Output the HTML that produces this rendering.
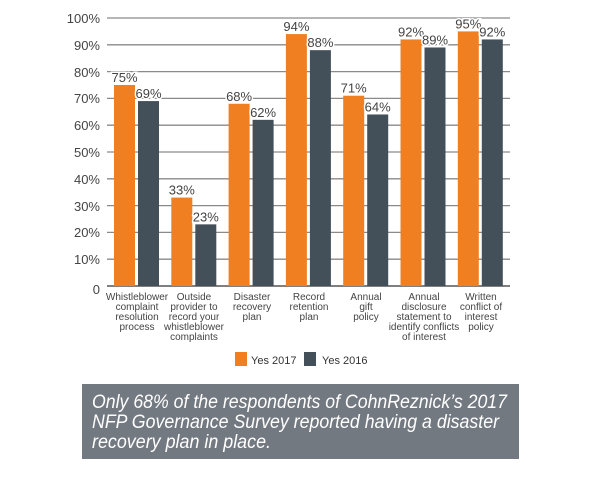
<!DOCTYPE html>
<html><head><meta charset="utf-8"><style>html,body{margin:0;padding:0;background:#fff}svg{display:block}</style></head><body>
<svg width="600" height="479" viewBox="0 0 600 479" xmlns="http://www.w3.org/2000/svg" font-family="Liberation Sans, sans-serif">
<g stroke="#8a8a8a" stroke-width="1.3">
<line x1="107" x2="510" y1="18" y2="18"/><line x1="107" x2="510" y1="44.8" y2="44.8"/><line x1="107" x2="510" y1="71.6" y2="71.6"/><line x1="107" x2="510" y1="98.4" y2="98.4"/><line x1="107" x2="510" y1="125.2" y2="125.2"/><line x1="107" x2="510" y1="152" y2="152"/><line x1="107" x2="510" y1="178.8" y2="178.8"/><line x1="107" x2="510" y1="205.6" y2="205.6"/><line x1="107" x2="510" y1="232.4" y2="232.4"/><line x1="107" x2="510" y1="259.2" y2="259.2"/>
</g>
<line x1="107" x2="510" y1="286" y2="286" stroke="#555" stroke-width="1.5"/>
<g font-size="13" fill="#444" text-anchor="end">
<text x="100" y="23">100%</text><text x="100" y="50">90%</text><text x="100" y="77">80%</text><text x="100" y="103">70%</text><text x="100" y="130">60%</text><text x="100" y="157">50%</text><text x="100" y="184">40%</text><text x="100" y="211">30%</text><text x="100" y="237">20%</text><text x="100" y="264">10%</text><text x="100" y="294">0</text>
</g>
<g id="bars"></g>
<g font-size="13" fill="#444" text-anchor="middle" id="vals"></g>
<g font-size="10" fill="#444" text-anchor="middle">
<text x="137" y="300">Whistleblower</text><text x="137" y="310">complaint</text><text x="137" y="320">resolution</text><text x="137" y="330">process</text>
<text x="194" y="300">Outside</text><text x="194" y="310">provider to</text><text x="194" y="320">record your</text><text x="194" y="330">whistleblower</text><text x="194" y="340">complaints</text>
<text x="252" y="300">Disaster</text><text x="252" y="310">recovery</text><text x="252" y="320">plan</text>
<text x="309" y="300">Record</text><text x="309" y="310">retention</text><text x="309" y="320">plan</text>
<text x="366" y="300">Annual</text><text x="366" y="310">gift</text><text x="366" y="320">policy</text>
<text x="424" y="300">Annual</text><text x="424" y="310">disclosure</text><text x="424" y="320">statement to</text><text x="424" y="330">identify conflicts</text><text x="424" y="340">of interest</text>
<text x="481" y="300">Written</text><text x="481" y="310">conflict of</text><text x="481" y="320">interest</text><text x="481" y="330">policy</text>
</g>
<rect x="235" y="352" width="12" height="14" fill="#f07f22"/>
<text x="251" y="364" font-size="11" fill="#333">Yes 2017</text>
<rect x="304" y="352" width="12" height="14" fill="#434f59"/>
<text x="322" y="364" font-size="11" fill="#333">Yes 2016</text>
<rect x="82" y="384" width="437" height="75" fill="#737980"/>
<g fill="#fff" font-size="19" font-style="italic">
<text x="92" y="408" textLength="415" lengthAdjust="spacingAndGlyphs">Only 68% of the respondents of CohnReznick’s 2017</text>
<text x="92" y="428" textLength="407" lengthAdjust="spacingAndGlyphs">NFP Governance Survey reported having a disaster</text>
<text x="92" y="448" textLength="179" lengthAdjust="spacingAndGlyphs">recovery plan in place.</text>
</g>
<script>
var a=[75,33,68,94,71,92,95],b=[69,23,62,88,64,89,92],ns="http://www.w3.org/2000/svg";
var g=document.getElementById('bars'),v=document.getElementById('vals');
function r(x,val,c){var e=document.createElementNS(ns,'rect');var h=val*2.68;e.setAttribute('x',x);e.setAttribute('y',286-h);e.setAttribute('width',21);e.setAttribute('height',h);e.setAttribute('fill',c);g.appendChild(e);
var t=document.createElementNS(ns,'text');t.setAttribute('x',x+10.5);t.setAttribute('y',286-h-3);t.setAttribute('stroke','#fff');t.setAttribute('stroke-width','3');t.setAttribute('paint-order','stroke');t.textContent=val+'%';v.appendChild(t);}
for(var i=0;i<7;i++){var x=114+57.3*i;r(x,a[i],'#f07f22');r(x+24,b[i],'#434f59');}
</script>
</svg>
</body></html>
